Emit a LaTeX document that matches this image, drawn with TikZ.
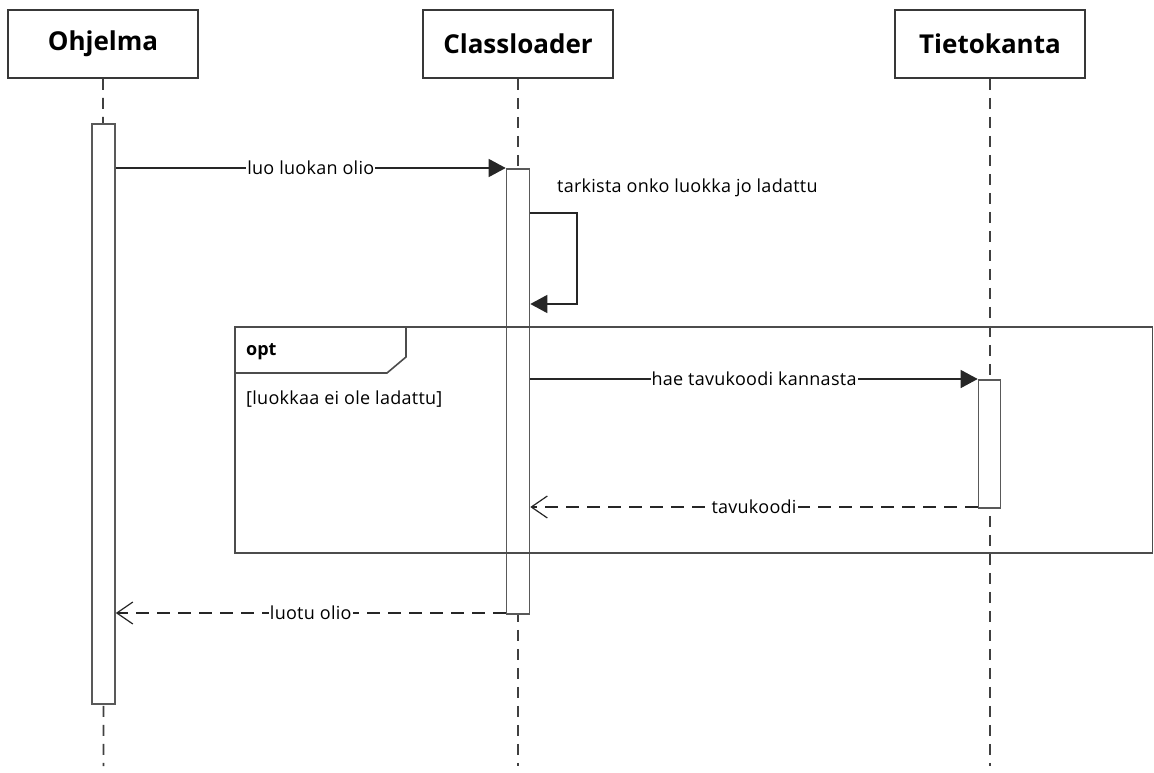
\documentclass[tikz,border=0pt]{standalone}
\usepackage{fontspec}
\setmainfont{Open Sans}
\newfontfamily\lblfont[LetterSpace=1.5]{Open Sans}
\usetikzlibrary{arrows.meta}
\begin{document}
\begin{tikzpicture}[x=1pt,y=-1pt,
  head/.style={draw=black!78, line width=1.6pt, minimum width=190pt, minimum height=68pt,
    inner sep=0pt, font=\bfseries\fontsize{26}{30}\selectfont},
  life/.style={draw=black!75, line width=1.6pt, dash pattern=on 11pt off 8pt},
  actbar/.style={draw=black!65, fill=white, line width=1.6pt, minimum width=23pt,
    inner sep=0pt, anchor=north},
  frameline/.style={draw=black!70, line width=1.6pt},
  msg/.style={draw=black!85, line width=1.4pt, -{Triangle[length=17pt,width=18pt]}},
  ret/.style={draw=black!85, line width=1.4pt, dash pattern=on 13pt off 8pt,
    -{Straight Barb[length=16pt,width=22pt,line width=1.2pt]}},
  lbl/.style={fill=white, inner sep=1pt, text=black, font=\lblfont\fontsize{18}{20}\selectfont},
  plain/.style={inner sep=0pt, text=black, font=\lblfont\fontsize{18}{20}\selectfont}
]
\useasboundingbox (0,0) rectangle (1154,773);

% heads
\node[head] (oh) at (103,44) {Ohjelma};
\node[head] (cl) at (518,44) {Classloader};
\node[head] (tk) at (990,44) {Tietokanta};

% lifeline ends
\coordinate (ohEnd) at (103.5,766);
\coordinate (clEnd) at (518,766);
\coordinate (tkEnd) at (990,766);

\draw[life] (oh.south) -- (ohEnd);
\draw[life] (cl.south) -- (clEnd);
\draw[life] (tk.south) -- (tkEnd);

% activations
\node[actbar, minimum height=580pt] (actO) at (103.5,123) {};
\node[actbar, minimum height=445pt] (actC) at (518,168) {};
\node[actbar, minimum height=128pt, minimum width=22pt] (actT) at (989.5,379) {};

% opt frame
\node[inner sep=0pt, minimum size=0pt] (fr) at (235,327) {};
\draw[frameline] (fr.center) rectangle (1152.5,553);
\draw[frameline] (235,373) -- (387,373) -- (406,357) -- (406,327);
\node[anchor=west, inner sep=0pt, font=\bfseries\fontsize{18}{20}\selectfont] (optl) at (246,352) {opt};
\node[plain, anchor=west] (guard) at (246,399) {[luokkaa ei ole ladattu]};

% messages
\draw[msg] (actO.east |- 0,168) -- node[lbl] (m1) {luo luokan olio} (actC.west |- 0,168);

\coordinate (s1) at (577,213);
\coordinate (s2) at (577,304);
\draw[msg] (actC.east |- 0,213) -- (s1) -- (s2) -- (actC.east |- 0,304);
\node[plain, anchor=base west] (selfl) at (557,192) {tarkista onko luokka jo ladattu};

\draw[msg] (actC.east |- 0,379) -- node[lbl] (m2) {hae tavukoodi kannasta} (actT.west |- 0,379);
\draw[ret] (actT.west |- 0,507) -- node[lbl] (m3) {tavukoodi} (actC.east |- 0,507);
\draw[ret] (actC.west |- 0,613) -- node[lbl] (m4) {luotu olio} (actO.east |- 0,613);
\end{tikzpicture}
\end{document}
